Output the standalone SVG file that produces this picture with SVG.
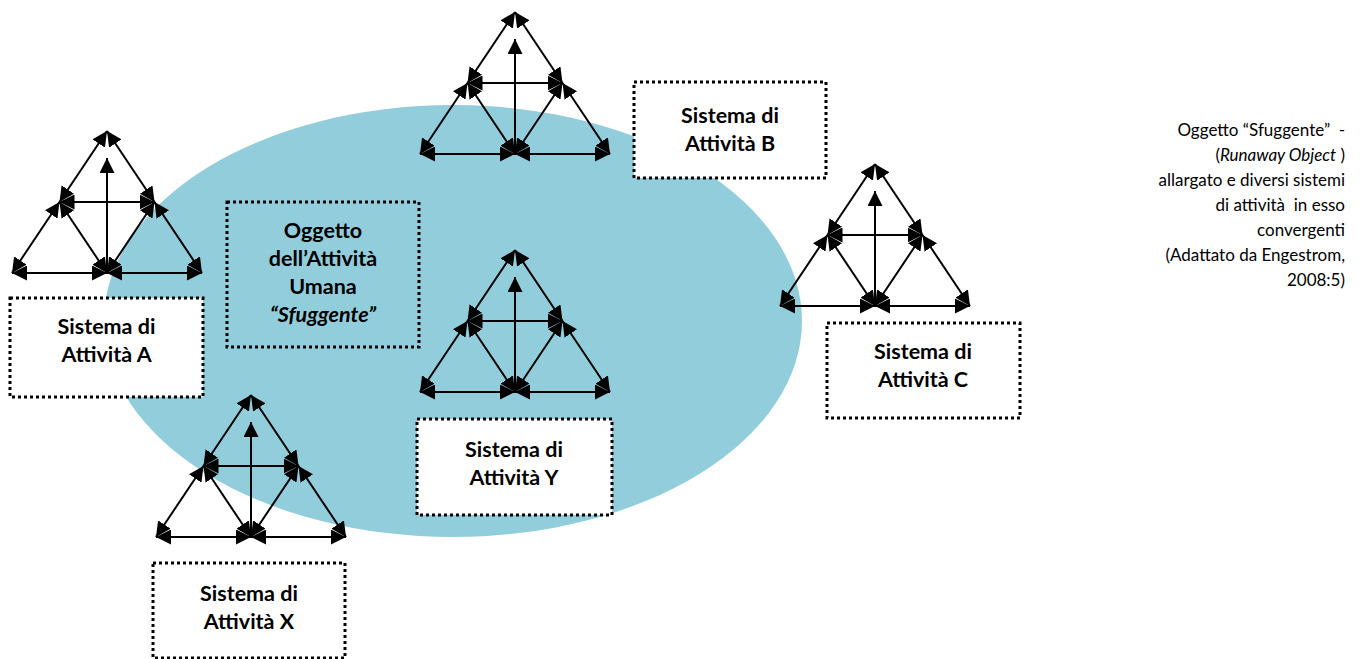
<svg xmlns="http://www.w3.org/2000/svg" xmlns:xlink="http://www.w3.org/1999/xlink" width="1363" height="659" viewBox="0 0 1363 659">
  <style>
    .tri line { stroke: #000; stroke-width: 2; fill: none; }
    .box { fill: #fff; stroke: #000; stroke-width: 3; stroke-dasharray: 3 3; }
    .box.open { fill: none; }
    .lbl { font-family: Lato, "Liberation Sans", sans-serif; font-weight: bold; font-size: 21.5px; fill: #000; text-anchor: middle; }
    .note { font-family: Lato, "Liberation Sans", sans-serif; font-size: 17px; fill: #000; text-anchor: end; white-space: pre; }
  </style>
  <defs>
    <marker id="ah" viewBox="0 0 10 10" refX="10" refY="5" markerWidth="15" markerHeight="15" markerUnits="userSpaceOnUse" orient="auto-start-reverse">
      <path d="M0,0 L10,5 L0,10 z" fill="#000"/>
    </marker>
    <!-- activity-system triangle, apex at origin -->
    <g id="tri" class="tri">
      <line x1="0" y1="0" x2="-47.5" y2="71" marker-start="url(#ah)" marker-end="url(#ah)"/>
      <line x1="-47.5" y1="71" x2="-95" y2="142" marker-start="url(#ah)" marker-end="url(#ah)"/>
      <line x1="0" y1="0" x2="47.5" y2="71" marker-start="url(#ah)" marker-end="url(#ah)"/>
      <line x1="47.5" y1="71" x2="95" y2="142" marker-start="url(#ah)" marker-end="url(#ah)"/>
      <line x1="-95" y1="142" x2="0" y2="142" marker-start="url(#ah)" marker-end="url(#ah)"/>
      <line x1="0" y1="142" x2="95" y2="142" marker-start="url(#ah)" marker-end="url(#ah)"/>
      <line x1="-47.5" y1="71" x2="47.5" y2="71" marker-start="url(#ah)" marker-end="url(#ah)"/>
      <line x1="-47.5" y1="71" x2="0" y2="142" marker-start="url(#ah)" marker-end="url(#ah)"/>
      <line x1="47.5" y1="71" x2="0" y2="142" marker-start="url(#ah)" marker-end="url(#ah)"/>
      <line x1="0" y1="142" x2="0" y2="27" marker-end="url(#ah)"/>
    </g>
  </defs>

  <!-- the runaway object -->
  <ellipse id="object-area" cx="453" cy="321" rx="349" ry="216" fill="#92CDDC"/>

  <g id="object">
    <rect class="box open" x="227" y="202" width="192" height="145"/>
    <text class="lbl" x="323" y="238">Oggetto</text>
    <text class="lbl" x="323" y="266">dell’Attività</text>
    <text class="lbl" x="323" y="294">Umana</text>
    <text class="lbl" x="323" y="322" font-style="italic">“Sfuggente”</text>
  </g>

  <g id="system-a">
    <use xlink:href="#tri" href="#tri" transform="translate(107,131)"/>
    <rect class="box" x="10" y="298" width="193" height="99"/>
    <text class="lbl" x="106.5" y="334">Sistema di</text>
    <text class="lbl" x="106.5" y="362">Attività A</text>
  </g>

  <g id="system-b">
    <use xlink:href="#tri" href="#tri" transform="translate(515,12)"/>
    <rect class="box" x="634" y="82" width="192" height="96"/>
    <text class="lbl" x="730" y="123">Sistema di</text>
    <text class="lbl" x="730" y="151">Attività B</text>
  </g>

  <g id="system-c">
    <use xlink:href="#tri" href="#tri" transform="translate(875,164)"/>
    <rect class="box" x="827" y="323" width="193" height="95"/>
    <text class="lbl" x="923" y="359">Sistema di</text>
    <text class="lbl" x="923" y="387">Attività C</text>
  </g>

  <g id="system-y">
    <use xlink:href="#tri" href="#tri" transform="translate(515,250)"/>
    <rect class="box" x="417" y="419" width="195" height="96"/>
    <text class="lbl" x="514" y="457">Sistema di</text>
    <text class="lbl" x="514" y="485">Attività Y</text>
  </g>

  <g id="system-x">
    <use xlink:href="#tri" href="#tri" transform="translate(251,395)"/>
    <rect class="box" x="153" y="563" width="192" height="95"/>
    <text class="lbl" x="249" y="601">Sistema di</text>
    <text class="lbl" x="249" y="629">Attività X</text>
  </g>

  <g id="caption">
    <text class="note" x="1345" y="136">Oggetto “Sfuggente”  -</text>
    <text class="note" x="1345" y="161">(<tspan font-style="italic">Runaway Object</tspan> )</text>
    <text class="note" x="1345" y="186">allargato e diversi sistemi</text>
    <text class="note" x="1345" y="211">di attività  in esso</text>
    <text class="note" x="1345" y="236">convergenti</text>
    <text class="note" x="1345" y="261">(Adattato da Engestrom,</text>
    <text class="note" x="1345" y="286">2008:5)</text>
  </g>
</svg>
